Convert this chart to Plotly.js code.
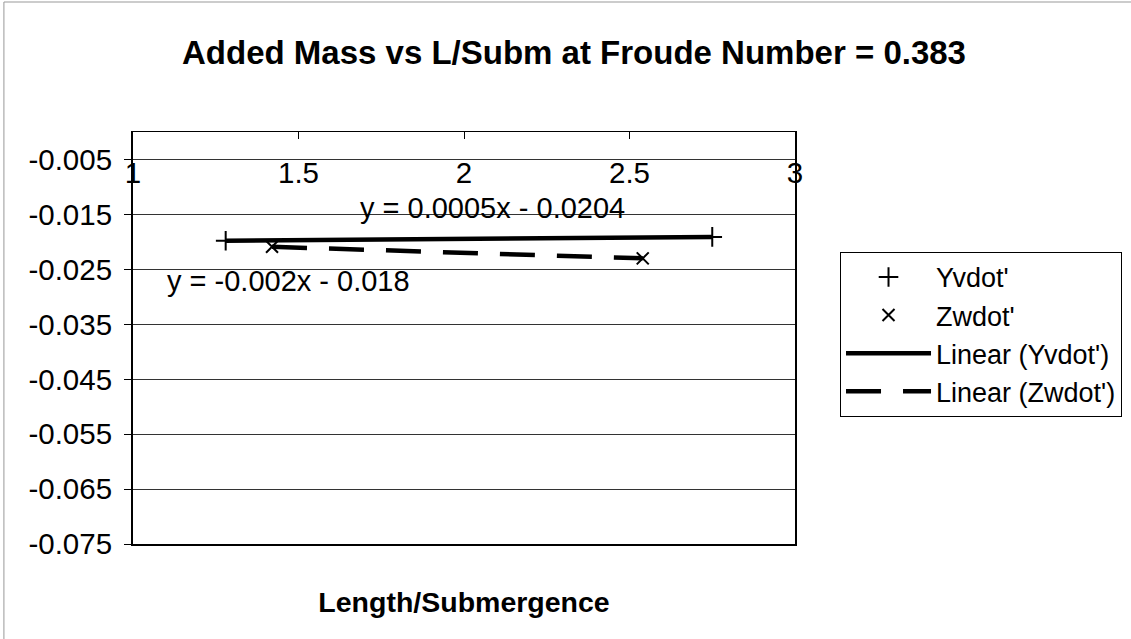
<!DOCTYPE html>
<html>
<head>
<meta charset="utf-8">
<script src="https://cdn.plot.ly/plotly-3.0.1.min.js"></script>
<style>
  html, body { margin: 0; padding: 0; background: #fff; }
  #chart { width: 1131px; height: 639px; }
</style>
</head>
<body>
<div id="chart"></div>
<script>
// ---- data ----
const lsubY = [1.28, 2.75];          // Length/Submergence for Yvdot'
const yvdot = [-0.0198, -0.0191];    // Yvdot'
const lsubZ = [1.42, 2.54];          // Length/Submergence for Zwdot'
const zwdot = [-0.0209, -0.0230];    // Zwdot'

const xTickVals = [1, 1.5, 2, 2.5, 3];
const xTickText = ['1', '1.5', '2', '2.5', '3'];
const yTickVals = [-0.075, -0.065, -0.055, -0.045, -0.035, -0.025, -0.015, -0.005];
const yTickText = ['-0.075', '-0.065', '-0.055', '-0.045', '-0.035', '-0.025', '-0.015', '-0.005'];

const eqTexts = ['y = 0.0005x - 0.0204', 'y = -0.002x - 0.018'];

// least-squares linear trendline (like Excel "Linear" trendline)
function linFit(xs, ys) {
  const n = xs.length;
  const mx = xs.reduce((a, b) => a + b, 0) / n;
  const my = ys.reduce((a, b) => a + b, 0) / n;
  let sxy = 0, sxx = 0;
  for (let i = 0; i < n; i++) { sxy += (xs[i] - mx) * (ys[i] - my); sxx += (xs[i] - mx) ** 2; }
  const m = sxy / sxx, b = my - m * mx;
  const x0 = Math.min(...xs), x1 = Math.max(...xs);
  return { x: [x0, x1], y: [m * x0 + b, m * x1 + b] };
}
const fitY = linFit(lsubY, yvdot);
const fitZ = linFit(lsubZ, zwdot);

const FONT = 'Arial, "Liberation Sans", sans-serif';

const traces = [
  { type: 'scatter', mode: 'markers', name: "Yvdot'", x: lsubY, y: yvdot,
    marker: { symbol: 'cross-thin', size: 14, color: '#000', line: { color: '#000', width: 2 } } },
  { type: 'scatter', mode: 'markers', name: "Zwdot'", x: lsubZ, y: zwdot,
    marker: { symbol: 'x-thin', size: 12, color: '#000', line: { color: '#000', width: 2 } } },
  { type: 'scatter', mode: 'lines', name: "Linear (Yvdot')", x: fitY.x, y: fitY.y,
    line: { color: '#000', width: 4.5 } },
  { type: 'scatter', mode: 'lines', name: "Linear (Zwdot')", x: fitZ.x, y: fitZ.y,
    line: { color: '#000', width: 4.5, dash: '35px,22px' } },
  // helper traces so the extra axes are drawn
  { type: 'scatter', x: [], y: [], xaxis: 'x2', showlegend: false, hoverinfo: 'skip' },
  { type: 'scatter', x: [], y: [], xaxis: 'x3', showlegend: false, hoverinfo: 'skip' }
];

const layout = {
  width: 1131, height: 639,
  paper_bgcolor: '#fff', plot_bgcolor: '#fff',
  margin: { l: 133, r: 336, t: 132, b: 95, autoexpand: false },
  font: { family: FONT, color: '#000', size: 28 },
  title: {
    text: 'Added Mass vs L/Subm at Froude Number = 0.383',
    font: { family: FONT, size: 33, color: '#000', weight: 700 },
    x: 574 / 1131, xanchor: 'center', xref: 'container',
    y: 1 - 52 / 639, yanchor: 'middle', yref: 'container'
  },
  showlegend: true,
  legend: {
    x: 1.068, xanchor: 'left', y: 0.709, yanchor: 'top',
    bordercolor: '#000', borderwidth: 1, bgcolor: '#fff',
    font: { family: FONT, size: 27, color: '#000' },
    itemwidth: 85, traceorder: 'normal', tracegroupgap: 0
  },
  xaxis: {
    range: [1, 3], anchor: 'y', side: 'bottom',
    showline: true, mirror: true, linecolor: '#000', linewidth: 1.5,
    ticks: '', showticklabels: false, showgrid: false, zeroline: false,
    automargin: false,
    title: { text: 'Length/Submergence', standoff: 47,
             font: { family: FONT, size: 28.5, color: '#000', weight: 700 } }
  },
  xaxis2: {
    range: [1, 3], overlaying: 'x', anchor: 'y', side: 'top',
    showline: false, ticks: 'inside', ticklen: 7, tickwidth: 1, tickcolor: '#000',
    tickvals: xTickVals, showticklabels: false, showgrid: false, zeroline: false,
    automargin: false
  },
  xaxis3: {
    range: [1, 3], overlaying: 'x', anchor: 'free', position: 0.950, side: 'bottom',
    showline: false, ticks: '', tickvals: xTickVals, ticktext: xTickText,
    tickfont: { family: FONT, size: 29.5, color: '#000' },
    showgrid: false, zeroline: false, automargin: false
  },
  yaxis: {
    range: [-0.075, 0],
    showline: true, mirror: true, linecolor: '#000', linewidth: 2,
    ticks: 'outside', ticklen: 7, tickwidth: 1, tickcolor: '#000',
    tickvals: yTickVals, ticktext: yTickText,
    tickfont: { family: FONT, size: 29.5, color: '#000' },
    ticklabelstandoff: 6,
    showgrid: true, gridcolor: '#333', gridwidth: 1, zeroline: false,
    automargin: false
  },
  annotations: [
    { x: 2.085, y: -0.01384, xref: 'x', yref: 'y', text: eqTexts[0], showarrow: false,
      font: { family: FONT, size: 29, color: '#000' }, xanchor: 'center', yanchor: 'middle' },
    { x: 1.471, y: -0.0272, xref: 'x', yref: 'y', text: eqTexts[1], showarrow: false,
      font: { family: FONT, size: 29, color: '#000' }, xanchor: 'center', yanchor: 'middle' }
  ],
  shapes: [
    { type: 'line', xref: 'paper', yref: 'paper', x0: -0.195, x1: 1.6, y0: 1.3155, y1: 1.3155,
      line: { color: '#999', width: 1 } },
    { type: 'line', xref: 'paper', yref: 'paper', x0: -0.195, x1: -0.195, y0: 1.3155, y1: -0.3,
      line: { color: '#999', width: 1 } }
  ]
};

Plotly.newPlot('chart', traces, layout, { displayModeBar: false, staticPlot: true });
</script>
</body>
</html>
